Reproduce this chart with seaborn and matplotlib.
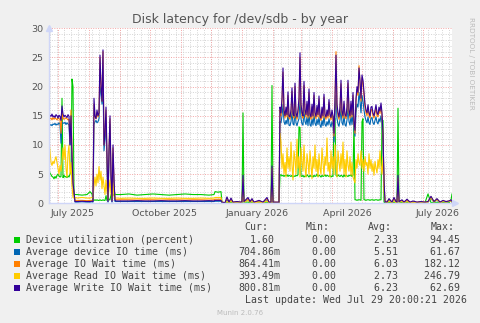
import numpy as np
import pandas as pd
import matplotlib
matplotlib.use("Agg")
import matplotlib.pyplot as plt
from matplotlib.patches import Rectangle
import seaborn as sns

# ---------------- data (days counted from 2025-06-22) ----------------
START = pd.Timestamp("2025-06-22")

days_a = list(range(0, 28))
days_f1 = [28, 33, 38, 41, 43]
days_b = list(range(44, 69))
days_f2 = [72, 80, 88, 96, 104, 112, 120, 128, 136, 144, 152, 160, 165, 166, 169, 172, 173, 176]
days_d = [178, 180, 182, 184, 188, 192, 193, 194, 195, 199, 201, 203, 205, 210, 214, 218, 220, 222, 223, 224, 228, 230]
days_m = list(range(231, 337))
days_e = [338, 340, 343, 345, 347, 348, 349, 350, 353, 355, 358, 361, 364, 368, 372, 376, 379, 382, 385, 388, 391, 394, 397, 400, 402, 403]

# Device utilization (percent)
util = (
    [5.5, 5.2, 4.9, 4.6, 4.5, 4.2, 4.6, 4.3, 4.8, 5.0, 4.7, 4.5, 4.6, 18.0, 4.4, 4.8, 4.5, 4.6, 4.4, 4.7,
     4.5, 5.0, 5.5, 21.3, 20.0, 1.6, 1.5, 1.5]
    + [1.5, 1.4, 1.5, 2.0, 1.6]
    + [0.5, 0.5, 0.6, 0.5, 0.6, 0.5, 0.5, 0.6, 0.5, 0.5, 0.6, 0.5, 0.5, 1.3, 0.5, 1.2, 0.6, 0.6, 1.5, 1.5,
       1.4, 1.5, 1.6, 1.5, 1.5]
    + [1.5, 1.6, 1.4, 1.5, 1.6, 1.5, 1.4, 1.5, 1.6, 1.5, 1.5, 1.4, 1.5, 2.0, 1.9, 2.0, 0.1, 0.1]
    + [0.1, 0.1, 0.1, 0.1, 0.1, 0.1, 0.1, 15.5, 0.2, 0.2, 0.1, 0.1, 0.1, 0.1, 0.1, 0.2, 0.1, 0.1, 20.2, 0.2,
       0.1, 0.1]
    + [4.8, 4.9, 4.7, 4.8, 4.6, 4.8, 4.7, 4.9, 4.6, 4.8, 4.7, 4.6, 4.8, 4.5, 4.7, 4.6, 4.8, 4.7, 4.9, 13.1,
       13.0, 4.7, 4.6, 4.8, 4.5, 4.7, 4.6, 4.9, 4.7, 4.5, 4.8, 4.6, 4.7, 4.5, 4.8, 4.6, 4.7, 5.0, 4.6, 4.8,
       4.7, 4.5, 4.8, 4.6, 4.7, 4.9, 4.6, 4.8, 4.7, 4.6, 4.8, 4.5, 4.7, 4.6, 14.9, 14.5, 4.8, 4.6, 4.9, 4.7,
       4.6, 4.8, 4.7, 4.5, 4.9, 4.6, 4.8, 4.7, 4.6, 4.8, 4.7, 4.9, 4.6, 4.8, 14.0, 0.6, 0.6, 0.5, 0.6, 0.6,
       0.6, 0.5, 14.0, 14.5, 0.6, 0.6, 0.5, 0.6, 0.6, 0.6, 0.5, 0.6, 0.6, 0.6, 0.5, 0.6, 0.6, 0.6, 0.5, 0.6,
       0.6, 0.6, 14.0, 14.2, 0.2, 0.1]
    + [0.1, 0.1, 0.1, 0.1, 0.1, 0.1, 16.3, 0.2, 0.1, 0.1, 0.1, 0.1, 0.1, 0.1, 0.1, 0.1, 1.6, 0.1, 0.1, 0.1,
       0.1, 0.1, 0.1, 0.1, 0.5, 1.6]
)

# Average device IO time (ms)
dev_io = (
    [13.0, 13.4, 13.5, 13.3, 13.6, 13.5, 13.7, 13.4, 13.6, 13.5, 13.8, 13.6, 10.3, 13.9, 13.8, 13.7, 13.9, 13.5,
     13.8, 13.6, 13.4, 10.0, 13.5, 7.0, 3.0, 1.5, 0.2, 0.2]
    + [0.2, 0.25, 0.2, 0.2, 0.25]
    + [0.2, 13.5, 14.0, 14.2, 13.8, 14.0, 14.5, 20.0, 19.0, 17.0, 21.0, 9.0, 11.0, 14.0, 6.0, 0.2, 8.0, 13.5,
       4.0, 0.2, 8.5, 3.0, 0.3, 0.3, 0.3]
    + [0.3, 0.3, 0.3, 0.3, 0.3, 0.3, 0.3, 0.3, 0.3, 0.3, 0.3, 0.3, 0.3, 0.35, 0.35, 0.35, 0.1, 0.05]
    + [0.6, 0.1, 0.5, 0.1, 0.2, 0.1, 0.2, 3.5, 0.2, 0.6, 0.2, 0.5, 0.1, 0.3, 0.1, 0.6, 0.1, 0.1, 5.5, 0.1,
       0.1, 0.1]
    + [14.0, 13.8, 15.0, 17.0, 14.0, 13.5, 14.2, 13.6, 15.5, 13.4, 13.3, 14.0, 15.8, 13.6, 13.4, 16.0, 13.8,
       13.3, 14.0, 14.5, 18.0, 14.5, 13.6, 13.4, 16.0, 14.0, 13.5, 14.8, 13.3, 15.5, 13.5, 13.2, 14.5, 13.4,
       15.2, 13.7, 13.3, 14.4, 13.5, 14.8, 13.4, 13.0, 14.2, 13.3, 15.0, 13.5, 13.2, 14.0, 13.4, 14.5, 13.6,
       13.1, 14.0, 13.4, 10.5, 15.0, 18.5, 14.5, 13.6, 13.2, 14.3, 16.5, 13.8, 13.4, 15.0, 13.5, 13.2, 14.3,
       16.8, 14.0, 13.4, 15.0, 13.5, 15.5, 12.5, 11.5, 15.5, 17.0, 16.5, 19.0, 17.5, 15.5, 18.5, 17.5, 16.0,
       14.8, 14.2, 13.8, 14.8, 13.8, 13.5, 14.6, 14.7, 13.8, 13.5, 14.2, 14.8, 13.9, 13.6, 14.5, 14.0, 15.0,
       13.8, 10.5, 3.0, 0.2]
    + [0.1, 0.5, 0.1, 0.6, 0.2, 0.1, 3.5, 0.2, 0.4, 0.1, 0.4, 0.1, 0.2, 0.1, 0.2, 0.1, 0.2, 0.8, 0.2, 0.5,
       0.1, 0.3, 0.2, 0.3, 0.4, 0.2]
)

# Average IO Wait time (ms)
io_wait = (
    [14.2, 14.5, 14.6, 14.3, 14.7, 14.4, 14.6, 14.5, 14.3, 14.6, 14.5, 14.4, 12.0, 15.5, 14.6, 14.4, 14.5, 14.7,
     14.5, 14.3, 14.4, 10.5, 16.0, 9.0, 3.5, 1.5, 0.4, 0.5]
    + [0.5, 0.5, 0.45, 0.5, 0.5]
    + [0.5, 17.0, 14.8, 14.5, 15.5, 14.8, 15.2, 25.0, 20.0, 17.5, 26.0, 10.0, 12.0, 16.0, 7.5, 0.5, 9.0, 14.5,
       5.0, 0.5, 9.5, 3.5, 0.6, 0.6, 0.6]
    + [0.6, 0.6, 0.55, 0.6, 0.6, 0.55, 0.6, 0.6, 0.55, 0.6, 0.6, 0.55, 0.6, 0.7, 0.7, 0.7, 0.2, 0.1]
    + [0.9, 0.2, 0.7, 0.2, 0.3, 0.2, 0.3, 4.2, 0.3, 0.8, 0.3, 0.7, 0.2, 0.4, 0.2, 0.8, 0.2, 0.2, 6.0, 0.2,
       0.2, 0.2]
    + [16.0, 15.0, 17.5, 22.5, 15.5, 14.6, 16.0, 14.8, 18.5, 14.6, 14.4, 15.5, 19.2, 14.9, 14.6, 20.0, 15.0,
       14.4, 15.5, 17.5, 25.0, 16.5, 15.0, 14.6, 20.2, 15.5, 14.8, 17.0, 14.6, 19.0, 14.9, 14.4, 16.5, 14.6,
       18.5, 15.0, 14.5, 16.3, 14.8, 17.9, 14.6, 14.2, 16.0, 14.6, 18.2, 14.8, 14.4, 15.6, 14.6, 17.3, 14.9,
       14.3, 15.6, 14.6, 11.5, 17.5, 26.0, 16.5, 15.0, 14.4, 16.0, 20.5, 15.3, 14.6, 17.0, 14.8, 14.5, 16.0,
       20.6, 15.5, 14.6, 17.0, 14.8, 18.5, 13.5, 12.0, 17.5, 19.5, 18.5, 23.6, 20.5, 17.5, 21.5, 20.5, 18.5,
       16.5, 15.5, 15.0, 16.5, 15.0, 14.6, 16.0, 16.1, 15.0, 14.6, 15.5, 16.4, 15.0, 14.8, 16.0, 15.4, 16.7,
       15.0, 11.5, 3.5, 0.4]
    + [0.2, 0.7, 0.2, 0.9, 0.3, 0.2, 4.3, 0.3, 0.5, 0.2, 0.6, 0.2, 0.3, 0.2, 0.3, 0.2, 0.3, 1.1, 0.3, 0.7,
       0.2, 0.4, 0.3, 0.4, 0.5, 0.3]
)

# Average Read IO Wait time (ms)
read_wait = (
    [10.4, 9.0, 7.0, 6.5, 7.2, 6.8, 7.5, 8.0, 7.0, 6.0, 5.0, 6.5, 5.5, 7.0, 9.5, 7.5, 10.0, 6.0, 4.5, 8.5,
     10.0, 5.0, 7.0, 3.0, 1.0, 0.9, 0.9, 1.0]
    + [0.9, 1.0, 0.9, 0.9, 1.0]
    + [0.9, 3.0, 4.5, 3.0, 5.0, 3.5, 6.3, 4.0, 5.5, 2.5, 4.5, 3.0, 1.5, 4.0, 2.0, 0.8, 2.5, 4.0, 1.5, 0.8,
       3.5, 1.2, 0.9, 0.9, 0.9]
    + [0.85, 0.9, 0.85, 0.85, 0.9, 0.85, 0.85, 0.9, 0.85, 0.85, 0.9, 0.85, 0.9, 1.0, 1.0, 1.0, 0.2, 0.1]
    + [0.3, 0.1, 0.4, 0.1, 0.2, 0.1, 0.2, 1.5, 0.2, 0.5, 0.2, 0.3, 0.1, 0.2, 0.1, 0.4, 0.1, 0.1, 2.0, 0.1,
       0.1, 0.1]
    + [12.0, 10.5, 6.0, 8.5, 5.0, 7.0, 4.5, 9.5, 6.0, 8.0, 5.5, 10.5, 6.5, 4.0, 9.0, 7.5, 5.0, 11.0, 6.0, 8.0,
       4.5, 9.5, 7.0, 5.5, 10.0, 6.0, 4.5, 8.5, 7.0, 5.0, 9.0, 6.5, 4.2, 8.0, 6.0, 10.0, 5.5, 7.5, 4.5, 8.5,
       6.0, 5.0, 9.5, 7.0, 4.8, 8.0, 6.5, 11.2, 5.5, 7.0, 4.5, 9.0, 6.0, 8.0, 5.0, 10.0, 6.5, 4.5, 9.0, 7.0,
       5.5, 8.5, 6.0, 10.5, 5.0, 7.5, 4.5, 9.0, 6.5, 5.5, 8.0, 4.8, 7.0, 4.5, 4.0, 3.5, 7.5, 6.0, 8.5, 7.0,
       6.5, 9.0, 6.0, 7.5, 5.5, 8.0, 6.5, 7.0, 5.0, 8.5, 6.0, 7.5, 5.5, 6.8, 4.8, 7.2, 6.0, 5.2, 7.5, 6.0,
       9.0, 6.5, 5.0, 8.0, 2.0, 0.3]
    + [0.1, 0.4, 0.1, 0.5, 0.1, 0.1, 1.5, 0.2, 0.3, 0.1, 0.3, 0.1, 0.2, 0.1, 0.1, 0.1, 0.2, 0.9, 0.2, 0.6,
       0.1, 0.3, 0.2, 0.3, 0.4, 0.2]
)

# Average Write IO Wait time (ms)
write_wait = (
    [14.6, 15.1, 14.9, 15.3, 14.8, 15.0, 14.7, 15.2, 15.0, 14.6, 15.1, 14.9, 14.2, 16.7, 15.3, 14.8, 15.1, 14.9,
     14.7, 15.2, 14.9, 10.0, 15.0, 8.0, 3.5, 2.0, 0.3, 0.3]
    + [0.3, 0.35, 0.3, 0.3, 0.35]
    + [0.3, 18.0, 15.0, 14.5, 16.0, 15.0, 15.5, 25.4, 20.0, 17.5, 26.3, 10.0, 12.0, 16.5, 8.0, 0.3, 9.0, 15.0,
       5.0, 0.3, 10.0, 4.0, 0.5, 0.4, 0.4]
    + [0.4, 0.4, 0.45, 0.4, 0.4, 0.45, 0.4, 0.4, 0.45, 0.4, 0.4, 0.45, 0.4, 0.5, 0.5, 0.5, 0.2, 0.1]
    + [1.1, 0.2, 0.9, 0.2, 0.3, 0.2, 0.3, 4.8, 0.3, 1.0, 0.3, 0.8, 0.2, 0.5, 0.2, 1.0, 0.2, 0.2, 6.4, 0.2,
       0.2, 0.2]
    + [16.5, 15.5, 18.0, 23.2, 16.0, 15.0, 16.5, 15.2, 19.1, 15.0, 14.8, 16.0, 19.8, 15.3, 15.0, 20.6, 15.5,
       14.8, 16.0, 18.0, 25.8, 17.0, 15.5, 15.0, 20.9, 16.0, 15.2, 17.5, 15.0, 19.6, 15.3, 14.8, 17.0, 15.0,
       19.0, 15.5, 14.9, 16.8, 15.2, 18.4, 15.0, 14.6, 16.5, 15.0, 18.7, 15.2, 14.8, 16.0, 15.0, 17.8, 15.3,
       14.7, 16.0, 15.0, 12.0, 18.0, 25.4, 17.0, 15.5, 14.8, 16.5, 21.1, 15.8, 15.0, 17.5, 15.2, 14.9, 16.5,
       21.1, 16.0, 15.0, 17.5, 15.2, 19.0, 14.0, 12.5, 18.0, 20.0, 19.0, 23.2, 21.0, 18.0, 22.0, 21.1, 19.0,
       17.0, 16.0, 15.5, 16.9, 15.5, 15.0, 16.5, 16.6, 15.4, 15.0, 16.0, 16.9, 15.5, 15.2, 16.5, 15.8, 17.2,
       15.5, 12.0, 4.0, 0.3]
    + [0.2, 0.8, 0.2, 1.0, 0.3, 0.2, 4.8, 0.3, 0.6, 0.2, 0.7, 0.2, 0.4, 0.2, 0.3, 0.2, 0.3, 1.2, 0.3, 0.8,
       0.2, 0.5, 0.3, 0.4, 0.6, 0.3]
)

days = days_a + days_f1 + days_b + days_f2 + days_d + days_m + days_e

series_names = [
    "Device utilization (percent)",
    "Average device IO time (ms)",
    "Average IO Wait time (ms)",
    "Average Read IO Wait time (ms)",
    "Average Write IO Wait time (ms)",
]
series_values = [util, dev_io, io_wait, read_wait, write_wait]
colors = ["#00CC00", "#0066B3", "#FF8000", "#FFCC00", "#330099"]

cur_vals = ["1.60 ", "704.86m", "864.41m", "393.49m", "800.81m"]
min_vals = ["0.00 ", "0.00 ", "0.00 ", "0.00 ", "0.00 "]
avg_vals = ["2.33 ", "5.51 ", "6.03 ", "2.73 ", "6.23 "]
max_vals = ["94.45 ", "61.67 ", "182.12 ", "246.79 ", "62.69 "]

y_ticks = [0, 5, 10, 15, 20, 25, 30]
x_label_dates = ["2025-07-16", "2025-10-16", "2026-01-16", "2026-04-16", "2026-07-16"]
x_label_texts = ["July 2025", "October 2025", "January 2026", "April 2026", "July 2026"]

# ---------------- build frame ----------------
frames = []
for name, vals in zip(series_names, series_values):
    n = min(len(days), len(vals))
    frames.append(pd.DataFrame({
        "date": START + pd.to_timedelta(np.array(days[:n]), unit="D"),
        "value": vals[:n],
        "series": name,
    }))
df = pd.concat(frames, ignore_index=True)

# ---------------- figure ----------------
W, H = 481, 323
fig = plt.figure(figsize=(W / 100, H / 100), dpi=100)
fig.patch.set_facecolor("#F0F0F0")
x0, x1, ytop, ybot = 49, 452, 28.3, 203.3
ax = fig.add_axes([x0 / W, (H - ybot) / H, (x1 - x0) / W, (ybot - ytop) / H])
ax.set_facecolor("white")

sns.lineplot(data=df, x="date", y="value", hue="series", hue_order=series_names,
             palette=dict(zip(series_names, colors)), estimator=None, sort=False,
             legend=False, linewidth=0.8, ax=ax)

ax.set_xlim(START, START + pd.Timedelta(days=403))
ax.set_ylim(0, 30)
ax.set_xlabel("")
ax.set_ylabel("")

# grid
grid_minor = "#D4D4D4"
grid_major = "#F2A6A6"
dot = (0, (1, 1.5))
month_starts = pd.date_range("2025-07-01", "2026-07-01", freq="MS")
week_lines = pd.date_range("2025-06-23", "2026-07-30", freq="7D")
for d in week_lines:
    ax.axvline(d, color=grid_minor, lw=0.7, ls=dot, zorder=0)
for v in range(1, 30):
    if v % 5:
        ax.axhline(v, color=grid_minor, lw=0.7, ls=dot, zorder=0)
for d in month_starts:
    ax.axvline(d, color=grid_major, lw=0.7, ls=dot, zorder=0.5)
for v in range(5, 31, 5):
    ax.axhline(v, color=grid_major, lw=0.7, ls=dot, zorder=0.5)

# ticks and labels
ax.set_yticks(y_ticks)
ax.set_yticklabels([str(t) for t in y_ticks])
ax.set_xticks(pd.to_datetime(x_label_dates))
ax.set_xticklabels(x_label_texts)
ax.tick_params(axis="both", length=0, labelsize=6.8, labelcolor="#555555", pad=4)

for s in ["top", "right"]:
    ax.spines[s].set_visible(False)
for s in ["left", "bottom"]:
    ax.spines[s].set_color("#CFD6F8")
    ax.spines[s].set_linewidth(1.0)
ax.plot([0], [1.0], marker="^", ms=4, color="#CFD6F8", transform=ax.transAxes, clip_on=False)
ax.plot([1.008], [0], marker=">", ms=4, color="#CFD6F8", transform=ax.transAxes, clip_on=False)

# title
fig.text(240 / W, 1 - 19 / H, "Disk latency for /dev/sdb - by year", ha="center", va="center",
         fontsize=9.0, color="#555555", family="DejaVu Sans")

# side label
fig.text(471 / W, 1 - 63 / H, "RRDTOOL / TOBI OETIKER", rotation=270, ha="center", va="center",
         fontsize=5.2, color="#BBBBBB", family="DejaVu Sans")

# legend
mono = "DejaVu Sans Mono"
lfs = 7.1
lcol = "#444444"
hy = 227
for txt, xr in zip(["Cur:", "Min:", "Avg:", "Max:"], [268, 330, 392, 455]):
    fig.text(xr / W, 1 - hy / H, txt, ha="right", va="center", fontsize=lfs, color=lcol, family=mono)
for i, name in enumerate(series_names):
    y = 239.7 + 12 * i
    fig.patches.append(Rectangle((14 / W, 1 - (y + 3) / H), 5.5 / W, 5.5 / H, transform=fig.transFigure,
                                 facecolor=colors[i], edgecolor="none"))
    fig.text(26.5 / W, 1 - y / H, name, ha="left", va="center", fontsize=lfs, color=lcol, family=mono)
    for col, xr in zip([cur_vals, min_vals, avg_vals, max_vals], [280, 342, 404, 466]):
        fig.text(xr / W, 1 - y / H, col[i], ha="right", va="center", fontsize=lfs, color=lcol, family=mono)
fig.text(467 / W, 1 - 299.7 / H, "Last update: Wed Jul 29 20:00:21 2026", ha="right", va="center",
         fontsize=lfs, color=lcol, family=mono)
fig.text(240 / W, 1 - 313 / H, "Munin 2.0.76", ha="center", va="center", fontsize=5.0,
         color="#BBBBBB", family="DejaVu Sans")

fig.savefig("out.png", dpi=100, facecolor=fig.get_facecolor())
